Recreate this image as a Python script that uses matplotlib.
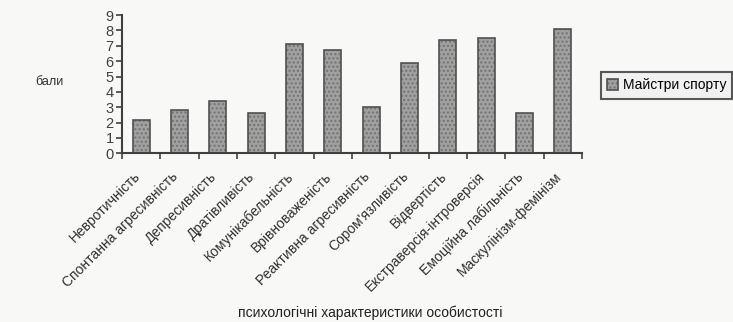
import matplotlib
matplotlib.use("Agg")
import matplotlib.pyplot as plt
import numpy as np

categories = ["Невротичність", "Спонтанна агресивність", "Депресивність", "Дратівливість",
              "Комунікабельність", "Врівноваженість", "Реактивна агресивність",
              "Сором'язливість", "Відвертість", "Екстраверсія-інтроверсія",
              "Емоційна лабільність", "Маскулінізм-фемінізм"]
values = [2.2, 2.8, 3.4, 2.6, 7.1, 6.7, 3.0, 5.9, 7.4, 7.5, 2.6, 8.1]
series_name = "Майстри спорту"
y_ticks = list(range(0, 10))

plt.rcParams['font.family'] = ['Liberation Sans', 'DejaVu Sans']

fig = plt.figure(figsize=(7.33, 3.22), dpi=100)
fig.patch.set_facecolor('#f8f8f6')
ax = fig.add_axes([0.1664, 0.524, 0.6276, 0.429])
ax.set_facecolor('#f8f8f6')

x = np.arange(len(categories))
bars = ax.bar(x, values, width=0.45, color='#a0a0a0', edgecolor='#505050', linewidth=1.2,
              hatch='....', label=series_name)
for b in bars:
    b._hatch_color = (0.45, 0.45, 0.45, 1)

ax.set_xlim(-0.5, len(categories) - 0.5)
ax.set_ylim(0, 9)
ax.set_yticks(y_ticks)
ax.tick_params(axis='y', labelsize=10.5, direction='out', length=4, width=1.2, colors='#404040', pad=2)
ax.set_xticks(np.arange(-0.5, len(categories), 1.0))
ax.set_xticklabels([])
ax.tick_params(axis='x', direction='out', length=4, width=1.2, colors='#404040')
for i, lab in enumerate(categories):
    ax.text(i - 0.22, -1.05, lab, rotation=45, ha='right', va='top', rotation_mode='anchor',
            fontsize=10, color='#303030')

for s in ['top', 'right']:
    ax.spines[s].set_visible(False)
for s in ['left', 'bottom']:
    ax.spines[s].set_color('#404040')
    ax.spines[s].set_linewidth(1.5)

fig.text(0.048, 0.745, "бали", fontsize=9, color='#303030', ha='left', va='center')
fig.text(0.505, 0.03, "психологічні характеристики особистості", fontsize=10, color='#202020',
         ha='center', va='center')

leg = fig.legend(handles=[bars], labels=[series_name], loc='center left',
                 bbox_to_anchor=(0.82, 0.735), fontsize=10, frameon=True, fancybox=False,
                 handlelength=0.8, handleheight=0.8, handletextpad=0.3, borderpad=0.45,
                 borderaxespad=0)
leg.get_frame().set_edgecolor('#303030')
leg.get_frame().set_linewidth(1.5)
leg.get_frame().set_facecolor('#f0f0f0')

fig.savefig("out.png", dpi=100, facecolor=fig.get_facecolor())
